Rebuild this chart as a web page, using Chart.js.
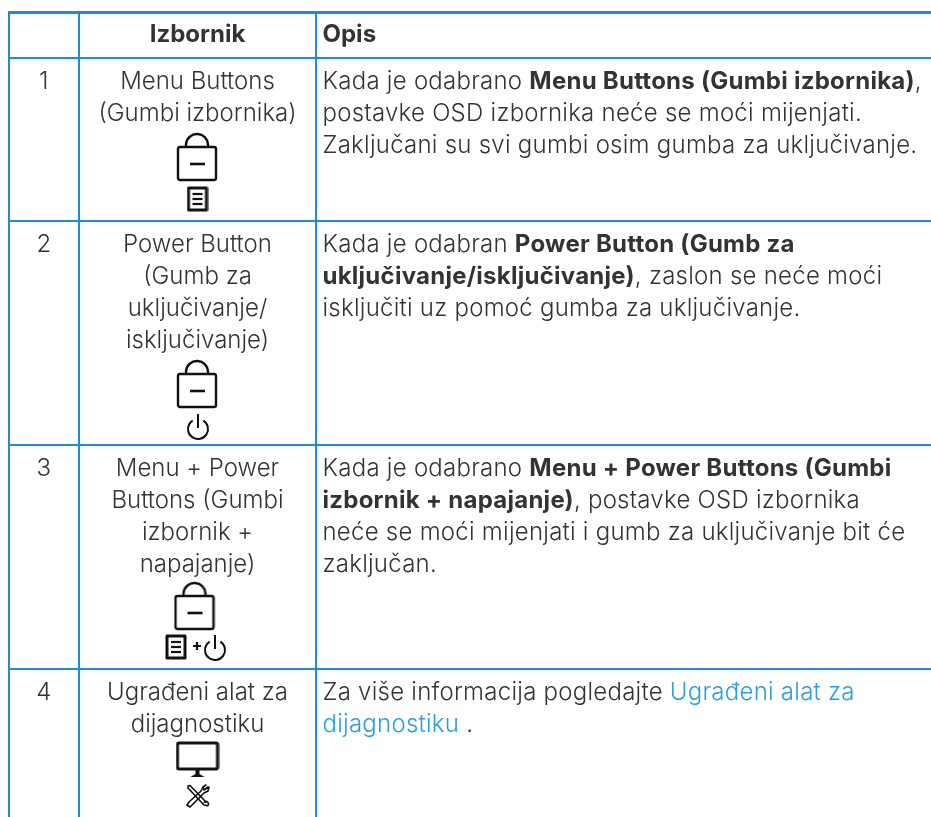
<!DOCTYPE html>
<html>
<head>
<meta charset="utf-8">
<title>Izbornik</title>
<script src="https://cdn.jsdelivr.net/npm/chart.js@4"></script>
<style>
  html, body { margin: 0; padding: 0; background: #fff; overflow: hidden; }
  canvas { display: block; }
</style>
</head>
<body>
<canvas id="chartArea" width="931" height="817"></canvas>
<script>
// table content
var rowNumbers = ['1', '2', '3', '4'];
var headers = ['', 'Izbornik', 'Opis'];
var menuLines = [
    ['Menu Buttons', '(Gumbi izbornika)'],
    ['Power Button', '(Gumb za', 'uključivanje/', 'isključivanje)'],
    ['Menu + Power', 'Buttons (Gumbi', 'izbornik +', 'napajanje)'],
    ['Ugrađeni alat za', 'dijagnostiku']
];
// each line is a list of runs: [text, kind], kind n = normal, b = bold, l = link
var descLines = [
    [
        [['Kada je odabrano ', 'n'], ['Menu Buttons (Gumbi izbornika)', 'b'], [',', 'n']],
        [['postavke OSD izbornika neće se moći mijenjati.', 'n']],
        [['Zaključani su svi gumbi osim gumba za uključivanje.', 'n']]
    ],
    [
        [['Kada je odabran ', 'n'], ['Power Button (Gumb za', 'b']],
        [['uključivanje/isključivanje)', 'b'], [', zaslon se neće moći', 'n']],
        [['isključiti uz pomoć gumba za uključivanje.', 'n']]
    ],
    [
        [['Kada je odabrano ', 'n'], ['Menu + Power Buttons (Gumbi', 'b']],
        [['izbornik + napajanje)', 'b'], [', postavke OSD izbornika', 'n']],
        [['neće se moći mijenjati i gumb za uključivanje bit će', 'n']],
        [['zaključan.', 'n']]
    ],
    [
        [['Za više informacija pogledajte ', 'n'], ['Ugrađeni alat za', 'l']],
        [['dijagnostiku', 'l'], [' .', 'n']]
    ]
];
var iconNames = ['lock', 'menu', 'lock', 'power', 'lock', 'menu', 'plus', 'power', 'monitor', 'tools'];
var iconCols = [197, 197.5, 197, 198, 194.5, 176, 197, 215, 197.5, 198];
var iconRows = [157, 199, 384, 427, 606, 647, 646, 648, 760, 796];

var colEdges = [8.5, 79, 316];
var rowEdges = [12, 58, 221, 445, 669];
var BLUE = '#1a8fd8';
var TEXT = '#333335';
var LINK = '#2a9fdc';
var NORMAL = '300 24px Inter';
var BOLD = '700 24px Inter';

function makeIcon(w, h, draw) {
    var c = document.createElement('canvas');
    c.width = w;
    c.height = h;
    var g = c.getContext('2d');
    g.strokeStyle = '#111';
    g.fillStyle = '#111';
    g.lineWidth = 2.4;
    g.lineJoin = 'round';
    g.lineCap = 'butt';
    draw(g);
    return c;
}

var iconArt = {
    lock: makeIcon(42, 50, function(g) {
        g.beginPath();
        g.moveTo(10, 16);
        g.arc(21, 13, 11, Math.PI * 1.02, Math.PI * 1.98);
        g.lineTo(32, 16);
        g.stroke();
        g.beginPath();
        g.roundRect(2, 15, 38, 33, 2);
        g.stroke();
        g.lineWidth = 2.6;
        g.beginPath();
        g.moveTo(14, 32);
        g.lineTo(29, 32);
        g.stroke();
    }),
    menu: makeIcon(22, 26, function(g) {
        g.lineWidth = 3;
        g.strokeRect(2, 2, 18, 22);
        g.lineWidth = 2.2;
        [8, 13, 18].forEach(function(y) {
            g.beginPath();
            g.moveTo(6, y);
            g.lineTo(16, y);
            g.stroke();
        });
    }),
    power: makeIcon(24, 28, function(g) {
        g.lineWidth = 2;
        g.beginPath();
        g.arc(12, 16, 10, Math.PI * 1.68, Math.PI * 1.32);
        g.stroke();
        g.beginPath();
        g.moveTo(12, 1);
        g.lineTo(12, 15);
        g.stroke();
    }),
    plus: makeIcon(10, 10, function(g) {
        g.lineWidth = 2.2;
        g.beginPath();
        g.moveTo(1, 5);
        g.lineTo(9, 5);
        g.moveTo(5, 1);
        g.lineTo(5, 9);
        g.stroke();
    }),
    monitor: makeIcon(44, 38, function(g) {
        g.lineWidth = 3;
        g.beginPath();
        g.roundRect(2, 2, 40, 26, 1.5);
        g.stroke();
        g.beginPath();
        g.moveTo(20, 29);
        g.lineTo(24, 29);
        g.lineTo(24, 33);
        g.lineTo(29, 36);
        g.lineTo(15, 36);
        g.lineTo(20, 33);
        g.closePath();
        g.fill();
    }),
    tools: makeIcon(24, 24, function(g) {
        g.lineWidth = 1.6;
        g.lineCap = 'round';
        g.beginPath();
        g.moveTo(2, 2);
        g.lineTo(4, 1.5);
        g.lineTo(20, 18);
        g.arc(20, 20, 2.4, -Math.PI * 0.75, Math.PI * 0.25);
        g.lineTo(18, 21);
        g.lineTo(2, 4);
        g.closePath();
        g.stroke();
        g.beginPath();
        g.moveTo(22, 3);
        g.lineTo(18, 6);
        g.lineTo(17, 3);
        g.lineTo(20, 1);
        g.moveTo(17, 3);
        g.lineTo(15, 7);
        g.lineTo(3, 18);
        g.lineTo(1, 21);
        g.lineTo(4, 23);
        g.lineTo(7, 20);
        g.lineTo(18, 9);
        g.lineTo(22, 7);
        g.lineTo(23, 3);
        g.stroke();
    })
};

var cellText = {
    id: 'cellText',
    afterDatasetsDraw: function(chart) {
        var ctx = chart.ctx;
        var x = chart.scales.x;
        var y = chart.scales.y;
        var numX = x.getPixelForValue((colEdges[0] + colEdges[1]) / 2);
        var menuX = x.getPixelForValue((colEdges[1] + colEdges[2]) / 2);
        var descX = x.getPixelForValue(colEdges[2] + 6.5);
        var lineGap = 32;
        ctx.save();
        ctx.textBaseline = 'alphabetic';
        ctx.letterSpacing = '0px';

        ctx.font = BOLD;
        ctx.fillStyle = TEXT;
        ctx.textAlign = 'center';
        ctx.fillText(headers[1], menuX, y.getPixelForValue(rowEdges[0] + 30));
        ctx.textAlign = 'left';
        ctx.fillText(headers[2], descX, y.getPixelForValue(rowEdges[0] + 30));

        rowNumbers.forEach(function(num, r) {
            var base = y.getPixelForValue(rowEdges[r + 1] + 31);
            ctx.font = NORMAL;
            ctx.fillStyle = TEXT;
            ctx.textAlign = 'center';
            ctx.letterSpacing = '0px';
            ctx.fillText(num, numX, base);
            menuLines[r].forEach(function(line, i) {
                ctx.fillText(line, menuX, base + i * lineGap);
            });
            ctx.textAlign = 'left';
            ctx.letterSpacing = '0.25px';
            descLines[r].forEach(function(runs, i) {
                var cx = descX;
                runs.forEach(function(run) {
                    ctx.font = run[1] == 'b' ? BOLD : NORMAL;
                    ctx.fillStyle = run[1] == 'l' ? LINK : TEXT;
                    ctx.fillText(run[0], cx, base + i * lineGap);
                    cx += ctx.measureText(run[0]).width;
                });
            });
        });
        ctx.restore();
    }
};

var config = {
    type: 'scatter',
    data: {
        datasets: [{
            label: 'icons',
            data: iconCols.map(function(c, i) { return { x: c, y: iconRows[i] }; }),
            pointStyle: iconNames.map(function(n) { return iconArt[n]; }),
            showLine: false
        }]
    },
    options: {
        responsive: false,
        animation: false,
        layout: { autoPadding: false, padding: { left: 8, top: 11, right: 0, bottom: 0 } },
        plugins: { legend: { display: false }, title: { display: false }, tooltip: { enabled: false } },
        scales: {
            x: {
                type: 'linear',
                min: 8,
                max: 931,
                afterBuildTicks: function(axis) {
                    axis.ticks = colEdges.map(function(v) { return { value: v }; });
                },
                ticks: { display: false },
                border: { display: false },
                grid: { color: BLUE, lineWidth: 2, drawTicks: false, tickLength: 0 }
            },
            y: {
                type: 'linear',
                min: 11,
                max: 817,
                reverse: true,
                afterBuildTicks: function(axis) {
                    axis.ticks = rowEdges.map(function(v) { return { value: v }; });
                },
                ticks: { display: false },
                border: { display: false },
                grid: {
                    color: BLUE,
                    lineWidth: function(c) { return c.index == 0 ? 3 : 2; },
                    drawTicks: false,
                    tickLength: 0
                }
            }
        }
    },
    plugins: [cellText]
};

var ctx = document.getElementById('chartArea').getContext('2d');
window.tableChart = new Chart(ctx, config);
</script>
</body>
</html>
